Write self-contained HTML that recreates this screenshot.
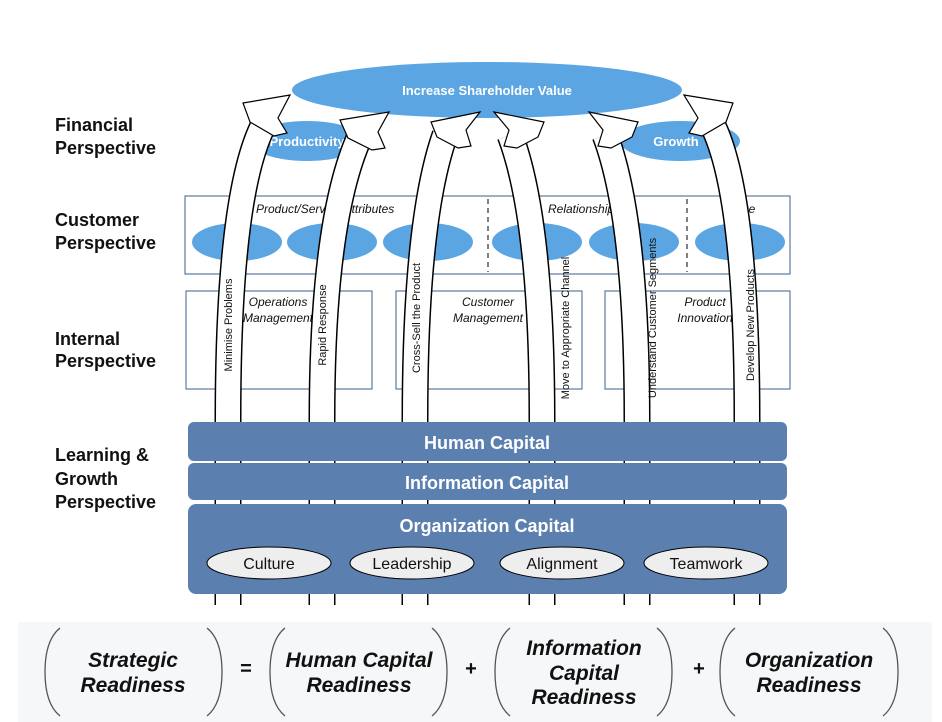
<!DOCTYPE html>
<html><head><meta charset="utf-8"><style>
body{margin:0;background:#fff;}
svg{display:block;font-family:"Liberation Sans",Arial,sans-serif;}
</style></head><body>
<svg width="942" height="722" viewBox="0 0 942 722" xmlns="http://www.w3.org/2000/svg">
<rect width="942" height="722" fill="#fff"/>
<g font-size="18" font-weight="bold" fill="#111">
<text x="55" y="131">Financial</text><text x="55" y="154">Perspective</text>
<text x="55" y="226">Customer</text><text x="55" y="249">Perspective</text>
<text x="55" y="345">Internal</text><text x="55" y="367">Perspective</text>
<text x="55" y="461">Learning &amp;</text><text x="55" y="485">Growth</text><text x="55" y="508">Perspective</text>
</g>
<rect x="185" y="196" width="605" height="78" fill="#fff" stroke="#3a5f8a" stroke-width="1"/>
<line x1="488" y1="199" x2="488" y2="272" stroke="#000" stroke-dasharray="5,4"/>
<line x1="687" y1="199" x2="687" y2="272" stroke="#000" stroke-dasharray="5,4"/>
<g font-size="12" font-style="italic" fill="#111">
<text x="256" y="213">Product/Service Attributes</text>
<text x="548" y="213">Relationship</text>
<text x="722" y="213">Image</text>
</g>
<g fill="#5aa5e2">
<ellipse cx="237" cy="242" rx="45" ry="19"/><ellipse cx="332" cy="242" rx="45" ry="19"/>
<ellipse cx="428" cy="242" rx="45" ry="19"/><ellipse cx="537" cy="242" rx="45" ry="19"/>
<ellipse cx="634" cy="242" rx="45" ry="19"/><ellipse cx="740" cy="242" rx="45" ry="19"/>
</g>
<g fill="#fff" stroke="#3a5f8a" stroke-width="1">
<rect x="186" y="291" width="186" height="98"/><rect x="396" y="291" width="186" height="98"/><rect x="605" y="291" width="185" height="98"/>
</g>
<g font-size="12" font-style="italic" fill="#111" text-anchor="middle">
<text x="278" y="306">Operations</text><text x="278" y="322">Management</text>
<text x="488" y="306">Customer</text><text x="488" y="322">Management</text>
<text x="705" y="306">Product</text><text x="705" y="322">Innovation</text>
</g>
<ellipse cx="307" cy="141" rx="57" ry="20" fill="#5aa5e2"/>
<ellipse cx="680" cy="141" rx="60" ry="20" fill="#5aa5e2"/>
<text x="307" y="146" font-size="13" font-weight="bold" fill="#fff" text-anchor="middle">Productivity</text>
<text x="676" y="146" font-size="13" font-weight="bold" fill="#fff" text-anchor="middle">Growth</text>
<ellipse cx="487" cy="90" rx="195" ry="28" fill="#5aa5e2"/>
<text x="487" y="95" font-size="13" font-weight="bold" fill="#fff" text-anchor="middle">Increase Shareholder Value</text>
<g fill="none" stroke-linecap="butt">
<g stroke="#000" stroke-width="27">
<path d="M228,605 L228,420 Q228,200 262,128"/>
<path d="M322,605 L322,420 Q322,220 360,136"/>
<path d="M415,605 L415,420 Q415,220 445,135"/>
<path d="M542,605 L542,420 Q542,220 510,135"/>
<path d="M637,605 L637,420 Q637,220 605,135"/>
<path d="M747,605 L747,420 Q747,200 714,128"/>
</g>
<g stroke="#fff" stroke-width="24">
<path d="M228,605 L228,420 Q228,200 262,128"/>
<path d="M322,605 L322,420 Q322,220 360,136"/>
<path d="M415,605 L415,420 Q415,220 445,135"/>
<path d="M542,605 L542,420 Q542,220 510,135"/>
<path d="M637,605 L637,420 Q637,220 605,135"/>
<path d="M747,605 L747,420 Q747,200 714,128"/>
</g>
</g>
<g fill="#fff" stroke="#000" stroke-width="1.2" stroke-linejoin="miter">
<polygon points="290,95 243,103 250,122 274,136 287,133 278,118"/>
<polygon points="389,112 340,120 348,138 372,150 385,148 378,132"/>
<polygon points="480,112 431,122 437,137 458,148 471,146 466,130"/>
<polygon points="494,112 544,122 538,137 517,148 504,146 509,130"/>
<polygon points="589,112 638,122 632,137 611,148 598,146 603,130"/>
<polygon points="684,95 733,103 726,122 702,136 689,133 698,118"/>
</g>
<g font-size="11" fill="#111" text-anchor="middle">
<text transform="translate(232,325) rotate(-90)">Minimise Problems</text>
<text transform="translate(326,325) rotate(-90)">Rapid Response</text>
<text transform="translate(420,318) rotate(-90)">Cross-Sell the Product</text>
<text transform="translate(569,328) rotate(-90)">Move to Appropriate Channel</text>
<text transform="translate(656,318) rotate(-90)">Understand Customer Segments</text>
<text transform="translate(754,325) rotate(-90)">Develop New Products</text>
</g>
<rect x="188" y="422" width="599" height="39" rx="6" fill="#5b7fae"/>
<rect x="188" y="463" width="599" height="37" rx="6" fill="#5b7fae"/>
<rect x="188" y="504" width="599" height="90" rx="8" fill="#5b7fae"/>
<g font-size="18" font-weight="bold" fill="#fff" text-anchor="middle">
<text x="487" y="449">Human Capital</text>
<text x="487" y="489">Information Capital</text>
<text x="487" y="532">Organization Capital</text>
</g>
<g fill="#eeeeee" stroke="#000" stroke-width="1">
<ellipse cx="269" cy="563" rx="62" ry="16"/><ellipse cx="412" cy="563" rx="62" ry="16"/>
<ellipse cx="562" cy="563" rx="62" ry="16"/><ellipse cx="706" cy="563" rx="62" ry="16"/>
</g>
<g font-size="16" fill="#111" text-anchor="middle">
<text x="269" y="569">Culture</text><text x="412" y="569">Leadership</text>
<text x="562" y="569">Alignment</text><text x="706" y="569">Teamwork</text>
</g>
<rect x="18" y="622" width="914" height="100" fill="#f5f7f9"/>
<g fill="none" stroke="#555" stroke-width="1.3">
<path d="M60,628 Q45,640 45,672 Q45,704 60,716"/><path d="M207,628 Q222,640 222,672 Q222,704 207,716"/>
<path d="M285,628 Q270,640 270,672 Q270,704 285,716"/><path d="M432,628 Q447,640 447,672 Q447,704 432,716"/>
<path d="M510,628 Q495,640 495,672 Q495,704 510,716"/><path d="M657,628 Q672,640 672,672 Q672,704 657,716"/>
<path d="M735,628 Q720,640 720,672 Q720,704 735,716"/><path d="M883,628 Q898,640 898,672 Q898,704 883,716"/>
</g>
<g font-size="21" font-weight="bold" font-style="italic" fill="#111" text-anchor="middle">
<text x="133" y="667">Strategic</text><text x="133" y="692">Readiness</text>
<text x="359" y="667">Human Capital</text><text x="359" y="692">Readiness</text>
<text x="584" y="655">Information</text><text x="584" y="680">Capital</text><text x="584" y="704">Readiness</text>
<text x="809" y="667">Organization</text><text x="809" y="692">Readiness</text>
</g>
<g font-size="20" font-weight="bold" fill="#111" text-anchor="middle">
<text x="246" y="675">=</text><text x="471" y="675">+</text><text x="699" y="675">+</text>
</g>
</svg>
</body></html>
